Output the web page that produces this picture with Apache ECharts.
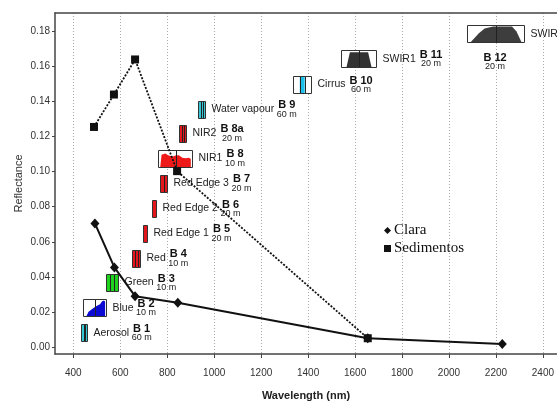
<!DOCTYPE html>
<html>
<head>
<meta charset="utf-8">
<script src="https://cdn.jsdelivr.net/npm/echarts@6/dist/echarts.min.js"></script>
<style>html,body{margin:0;padding:0;background:#fff}#c{width:557px;height:401px}</style>
</head>
<body>
<div id="c"></div>
<script>
// ---- data ----
const xTicks = [400, 600, 800, 1000, 1200, 1400, 1600, 1800, 2000, 2200, 2400];
const yTicks = [0, 0.02, 0.04, 0.06, 0.08, 0.10, 0.12, 0.14, 0.16, 0.18];

const claraX = [492, 575, 663, 845, 1654, 2227];
const claraY = [0.0705, 0.0454, 0.029, 0.0252, 0.005, 0.0017];
const sedX = [488, 573, 663, 842, 1654];
const sedY = [0.1255, 0.144, 0.164, 0.1003, 0.005];

const bandCode = ['B 1', 'B 2', 'B 3', 'B 4', 'B 5', 'B 6', 'B 7', 'B 8', 'B 8a', 'B 9', 'B 10', 'B 11', 'B 12'];
const bandName = ['Aerosol', 'Blue', 'Green', 'Red', 'Red Edge 1', 'Red Edge 2', 'Red Edge 3', 'NIR1', 'NIR2', 'Water vapour', 'Cirrus', 'SWIR1', 'SWIR2'];
const bandRes = ['60 m', '10 m', '10 m', '10 m', '20 m', '20 m', '20 m', '10 m', '20 m', '60 m', '60 m', '20 m', '20 m'];
const bandCenter = [446, 491, 564, 668, 704, 742, 783, 835, 866, 947, 1376, 1613, 2196];
const bandSpan = [27, 97, 50, 33, 17, 17, 28, 146, 28, 28, 78, 149, 241];
const bandLevel = [0.008, 0.0224, 0.0368, 0.0505, 0.0648, 0.079, 0.0933, 0.1077, 0.1218, 0.1355, 0.1497, 0.1643, 0.1787];

// ---- icon styles ----
const RED = '#e2161b', CYAN = '#36c6d6';
const ICON = [
  {bg: CYAN, lines: [0.35, 0.65]},
  {bg: '#fff', fill: '#0a0ad2', poly: [[0.12,1],[0.22,0.72],[0.32,0.62],[0.45,0.48],[0.55,0.4],[0.65,0.32],[0.72,0.28],[0.8,0.12],[0.88,0.06],[0.94,0.12],[0.94,1]], lines: [0.5]},
  {bg: '#1ed21e', lines: [0.33, 0.66]},
  {bg: RED, lines: [0.33, 0.66]},
  {bg: RED, lines: []},
  {bg: RED, lines: []},
  {bg: RED, lines: [0.5]},
  {bg: '#fff', fill: '#ee1a1a', poly: [[0.05,1],[0.09,0.25],[0.2,0.18],[0.3,0.3],[0.42,0.35],[0.5,0.3],[0.6,0.28],[0.7,0.42],[0.8,0.45],[0.9,0.42],[0.95,0.5],[0.95,1]], lines: [0.5]},
  {bg: RED, lines: [0.33, 0.66]},
  {bg: CYAN, lines: [0.33, 0.66]},
  {bg: '#fff', fill: '#1cbfea', poly: [[0.35,0],[0.62,0],[0.62,1],[0.35,1]], lines: [0.35, 0.62]},
  {bg: '#fff', fill: '#333', poly: [[0.14,1],[0.24,0.1],[0.76,0.1],[0.86,1]], lines: [0.5]},
  {bg: '#fff', fill: '#3d3d3d', poly: [[0.05,1],[0.2,0.45],[0.3,0.18],[0.45,0.06],[0.78,0.06],[0.86,0.35],[0.95,1]], lines: [0.5]}
];

const FONT = '"Liberation Sans", Arial, sans-serif';
const meas = document.createElement('canvas').getContext('2d');
function tw(t, font) { meas.font = font; return meas.measureText(t).width; }

const bandData = bandCenter.map((c, i) => [c, bandLevel[i], bandSpan[i], i]);

function renderBand(params, api) {
  const i = api.value(3);
  const c = api.coord([api.value(0), api.value(1)]);
  const w = api.size([api.value(2), 0])[0];
  const h = 17;
  const x0 = Math.round(c[0] - w / 2) + 0.5, y0 = Math.round(c[1] - h / 2) + 0.5;
  const ww = Math.round(w);
  const st = ICON[i];
  const kids = [];
  kids.push({type: 'rect', shape: {x: x0, y: y0, width: ww, height: h}, style: {fill: st.bg, stroke: null}});
  if (st.poly) {
    kids.push({type: 'polygon', shape: {points: st.poly.map(p => [x0 + p[0] * ww, y0 + p[1] * h])}, style: {fill: st.fill}});
  }
  st.lines.forEach(f => {
    const lx = Math.round(x0 + f * ww) + 0.5;
    kids.push({type: 'line', shape: {x1: lx, y1: y0, x2: lx, y2: y0 + h}, style: {stroke: '#222', lineWidth: 1}});
  });
  kids.push({type: 'rect', shape: {x: x0, y: y0, width: ww, height: h}, style: {fill: null, stroke: '#333', lineWidth: 1}});
  const nf = '10.5px ' + FONT, cf = 'bold 11px ' + FONT, rf = '9px ' + FONT;
  const nx = x0 + ww + 6;
  const cy = c[1];
  kids.push({type: 'text', style: {text: bandName[i], x: nx, y: cy, font: nf, fill: '#222', verticalAlign: 'middle', align: 'left'}});
  let codeCx, codeY, resY;
  if (i === bandCode.length - 1) {
    codeCx = c[0]; codeY = cy + 24; resY = cy + 33;
  } else {
    const cx = nx + tw(bandName[i], nf) + 4;
    codeCx = cx + tw(bandCode[i], cf) / 2; codeY = cy - 4; resY = cy + 5;
  }
  kids.push({type: 'text', style: {text: bandCode[i], x: codeCx, y: codeY, font: cf, fill: '#111', verticalAlign: 'middle', align: 'center'}});
  kids.push({type: 'text', style: {text: bandRes[i], x: codeCx, y: resY, font: rf, fill: '#222', verticalAlign: 'middle', align: 'center'}});
  return {type: 'group', children: kids};
}

const chart = echarts.init(document.getElementById('c'), null, {renderer: 'canvas'});
const XMIN = 322, XMAX = 2460, YMIN = -0.004, YMAX = 0.1905;
chart.setOption({
  animation: false,
  backgroundColor: '#fff',
  textStyle: {fontFamily: FONT},
  grid: {left: 55, right: 0, top: 13, bottom: 47, outerBoundsMode: 'none', containLabel: false},
  legend: {
    orient: 'vertical', left: 379, top: 218, itemGap: 3,
    itemWidth: 7, itemHeight: 7, itemStyle: {borderWidth: 0},
    textStyle: {fontFamily: '"Liberation Serif", "Times New Roman", serif', fontSize: 15, color: '#111', padding: [0, 0, 0, -2]},
    data: [{name: 'Clara', icon: 'diamond'}, {name: 'Sedimentos', icon: 'rect'}]
  },
  xAxis: [{
    type: 'value', min: XMIN, max: XMAX, position: 'bottom',
    name: 'Wavelength (nm)', nameLocation: 'middle', nameGap: 36, nameMoveOverlap: false,
    nameTextStyle: {fontWeight: 'bold', fontSize: 11, color: '#222'},
    axisLine: {show: true, onZero: false, lineStyle: {color: '#444', width: 1.5}},
    axisTick: {show: true, length: 4, customValues: xTicks, lineStyle: {color: '#444'}},
    axisLabel: {customValues: xTicks, margin: 14, fontSize: 10, color: '#333', formatter: v => String(v)},
    splitLine: {show: true, lineStyle: {color: '#aaa', type: [1, 2], width: 1}}
  }, {
    type: 'value', min: XMIN, max: XMAX, position: 'top',
    axisLine: {show: true, onZero: false, lineStyle: {color: '#444', width: 1.5}},
    axisTick: {show: false}, axisLabel: {show: false}, splitLine: {show: false}
  }],
  yAxis: {
    type: 'value', min: YMIN, max: YMAX,
    name: 'Reflectance', nameLocation: 'middle', nameGap: 31, nameRotate: 90, nameMoveOverlap: false,
    nameTextStyle: {fontSize: 11, color: '#333'},
    axisLine: {show: true, onZero: false, lineStyle: {color: '#444', width: 1.5}},
    axisTick: {show: true, length: 3, customValues: yTicks, lineStyle: {color: '#444'}},
    axisLabel: {customValues: yTicks, margin: 5, fontSize: 10, color: '#333', formatter: v => v.toFixed(2)},
    splitLine: {show: false}
  },
  series: [
    {type: 'custom', name: 'bands', renderItem: renderBand, data: bandData, z: 1, silent: true, clip: false},
    {type: 'line', name: 'Sedimentos', data: sedX.map((x, i) => [x, sedY[i]]), z: 3,
      symbol: 'rect', symbolSize: 8, showSymbol: true,
      lineStyle: {color: '#111', width: 1.8, type: [2, 1.5]}, itemStyle: {color: '#111'}},
    {type: 'line', name: 'Clara', data: claraX.map((x, i) => [x, claraY[i]]), z: 4,
      symbol: 'diamond', symbolSize: [9, 10], showSymbol: true,
      lineStyle: {color: '#111', width: 2}, itemStyle: {color: '#111'}}
  ]
});
</script>
</body>
</html>
